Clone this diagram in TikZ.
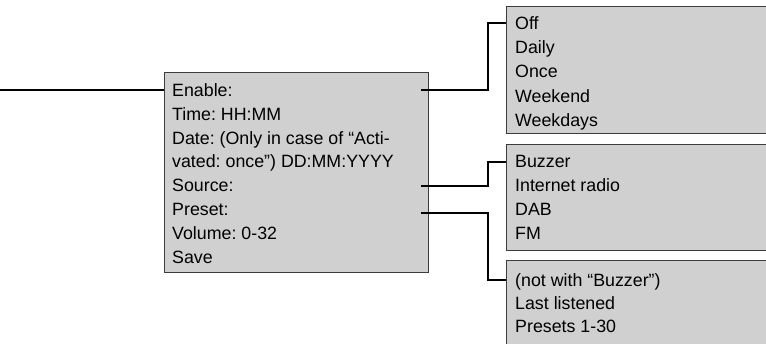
\documentclass[tikz,border=0pt]{standalone}
\usepackage{fontspec}
\setmainfont{Liberation Sans}
\definecolor{boxgray}{RGB}{208,208,208}
\definecolor{boxline}{RGB}{60,60,60}
\tikzset{
  menubox/.style={draw=boxline, fill=boxgray, line width=1pt, anchor=north west,
    inner sep=0pt},
  item/.style={anchor=west, inner sep=0pt, text height=12.5pt, text depth=0pt,
    font=\fontsize{17.8}{20}\selectfont\frenchspacing},
  conn/.style={line width=1.8pt}
}

\begin{document}
\begin{tikzpicture}[x=1pt,y=-1pt]
\clip (0,0) rectangle (766,343);

% boxes
\node[menubox, minimum width=264pt, minimum height=200pt] (alarm) at (164,72) {};
\node[menubox, minimum width=290pt, minimum height=127pt] (mode) at (506,6) {};
\node[menubox, minimum width=290pt, minimum height=106pt] (source) at (506,144) {};
\node[menubox, minimum width=290pt, minimum height=120pt] (preset) at (506,260) {};

% alarm menu
\foreach \i/\t in {1/Enable:, 2/Time: HH:MM, 3/{Date: (Only in case of “Acti-},
                   4/{vated: once”) DD:MM:YYYY}, 5/Source:, 6/Preset:,
                   7/Volume: 0-32, 8/Save}{
    \node[item] (m\i) at (172, 90+23.9*\i-23.9) {\t};
}

% options
\foreach \i/\t in {1/Off, 2/Daily, 3/Once, 4/Weekend, 5/Weekdays}{
    \node[item] (o\i) at (515, 23.3+24.2*\i-24.2) {\t};
}
\foreach \i/\t in {1/Buzzer, 2/Internet radio, 3/DAB, 4/FM}{
    \node[item] (s\i) at (515, 161.7+24*\i-24) {\t};
}
\foreach \i/\t in {1/{(not with “Buzzer”)}, 2/Last listened, 3/Presets 1-30}{
    \node[item] (p\i) at (515, 280+23.3*\i-23.3) {\t};
}

% connectors
\coordinate (feed) at (0,90);
\coordinate (tickx) at ([xshift=-8pt]alarm.east);
\path (tickx |- m6.west) ++(0,3.5) coordinate (presettick);
\draw[conn] (feed) -- (alarm.west |- m1.west);
\draw[conn] (tickx |- m1.west) -- ++(67,0) |- (mode.west |- o1.west);
\draw[conn] (tickx |- m5.west) -- ++(67,0) |- (source.west |- s1.west);
\draw[conn] (presettick) -- ++(67,0) |- (preset.west |- p1.west);
\end{tikzpicture}
\end{document}
